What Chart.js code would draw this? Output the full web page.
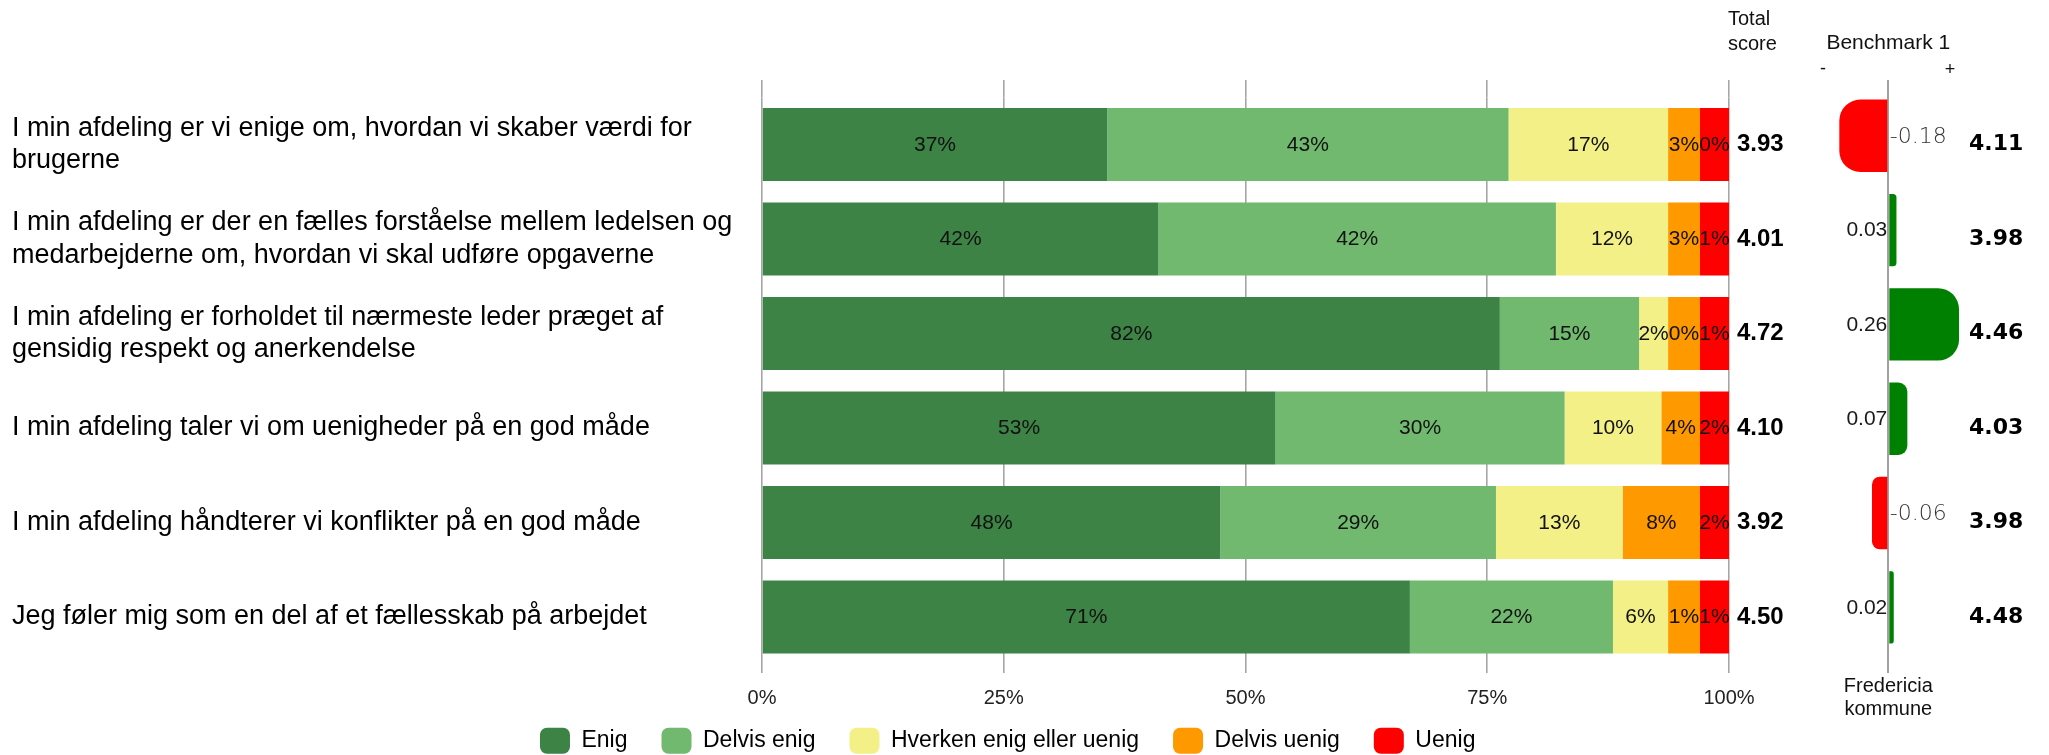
<!DOCTYPE html>
<html>
<head>
<meta charset="utf-8">
<script src="https://cdn.jsdelivr.net/npm/chart.js@4.4.1/dist/chart.umd.min.js"></script>
<style>
html,body{margin:0;padding:0;background:#fff;width:2049px;height:755px;overflow:hidden;}
#wrap{position:relative;width:2049px;height:755px;overflow:hidden;}
canvas{position:absolute;top:0;}
#main{left:0;}
#bench{left:1790px;}
</style>
</head>
<body>
<div id="wrap">
<canvas id="main" width="2049" height="780"></canvas>
<canvas id="bench" width="259" height="755"></canvas>
</div>
<script>
// ---------- data ----------
const categories = [
  ['I min afdeling er vi enige om, hvordan vi skaber værdi for', 'brugerne'],
  ['I min afdeling er der en fælles forståelse mellem ledelsen og', 'medarbejderne om, hvordan vi skal udføre opgaverne'],
  ['I min afdeling er forholdet til nærmeste leder præget af', 'gensidig respekt og anerkendelse'],
  'I min afdeling taler vi om uenigheder på en god måde',
  'I min afdeling håndterer vi konflikter på en god måde',
  'Jeg føler mig som en del af et fællesskab på arbejdet'
];
const seriesNames = ['Enig', 'Delvis enig', 'Hverken enig eller uenig', 'Delvis uenig', 'Uenig'];

// percentages printed on the segments
const pctEnig        = [37, 42, 82, 53, 48, 71];
const pctDelvisEnig  = [43, 42, 15, 30, 29, 22];
const pctHverken     = [17, 12, 2, 10, 13, 6];
const pctDelvisUenig = [3, 3, 0, 4, 8, 1];
const pctUenig       = [0, 1, 1, 2, 2, 1];

// segment widths as drawn in the picture (small shares get a minimum visible width)
const barEnig        = [35.7, 41.0, 76.3, 53.1, 47.4, 67.0];
const barDelvisEnig  = [41.5, 41.1, 14.4, 29.9, 28.5, 21.0];
const barHverken     = [16.5, 11.6, 3.0, 10.0, 13.1, 5.7];
const barDelvisUenig = [3.3, 3.3, 3.3, 4.0, 8.0, 3.3];
const barUenig       = [3.0, 3.0, 3.0, 3.0, 3.0, 3.0];

const totalScore = ['3.93', '4.01', '4.72', '4.10', '3.92', '4.50'];
const benchDiff  = [-0.18, 0.03, 0.26, 0.07, -0.06, 0.02];
const benchScore = ['4.11', '3.98', '4.46', '4.03', '3.98', '4.48'];
const xTickStep  = 25;

// ---------- styling ----------
const SANS = '"Liberation Sans", Arial, sans-serif';
const DEJA = '"DejaVu Sans", sans-serif';
Chart.defaults.font.family = SANS;
Chart.defaults.color = '#000';

const pctLabels = [pctEnig, pctDelvisEnig, pctHverken, pctDelvisUenig, pctUenig];
const barValues = [barEnig, barDelvisEnig, barHverken, barDelvisUenig, barUenig];
const colors = ['#3d8345', '#70b96e', '#f3f087', '#ff9900', '#ff0000'];
const GRID = '#a6a6a6';

const segLabelPlugin = {
  id: 'segLabels',
  afterDatasetsDraw(chart) {
    const ctx = chart.ctx;
    ctx.save();
    ctx.font = '21px ' + SANS;
    ctx.fillStyle = '#111';
    ctx.textAlign = 'center';
    ctx.textBaseline = 'middle';
    chart.data.datasets.forEach((ds, i) => {
      chart.getDatasetMeta(i).data.forEach((el, j) => {
        ctx.fillText(pctLabels[i][j] + '%', (el.x + el.base) / 2, el.y + 0.5);
      });
    });
    ctx.restore();
  }
};

const headerPlugin = {
  id: 'hdr',
  afterDraw(chart) {
    const ctx = chart.ctx;
    const x = chart.chartArea.right - 1;
    ctx.save();
    ctx.font = '20px ' + SANS;
    ctx.fillStyle = '#111';
    ctx.textAlign = 'left';
    ctx.textBaseline = 'alphabetic';
    ctx.fillText('Total', x, 25);
    ctx.fillText('score', x, 50);
    ctx.restore();
  }
};

// place the legend row where the reference has it (just under the % tick labels)
const legendPlace = {
  id: 'legendPlace',
  afterLayout(chart) {
    const l = chart.legend;
    if (!l) return;
    l.top -= 16.3; l.bottom -= 16.3;
    l.left -= 22.8; l.right -= 22.8;
  }
};

new Chart(document.getElementById('main'), {
  type: 'bar',
  data: {
    labels: categories,
    datasets: seriesNames.map((n, i) => ({
      label: n,
      data: barValues[i],
      backgroundColor: colors[i],
      borderWidth: 0,
      barPercentage: 0.7726,
      categoryPercentage: 1,
      stack: 's'
    }))
  },
  options: {
    responsive: false,
    animation: false,
    indexAxis: 'y',
    layout: { padding: { left: 12, right: 0, top: 80, bottom: 0 } },
    plugins: {
      legend: {
        position: 'bottom',
        labels: {
          boxWidth: 30, boxHeight: 26, padding: 34,
          font: { size: 23 }, color: '#000',
          useBorderRadius: true, borderRadius: 7
        }
      },
      tooltip: { enabled: false },
      title: { display: false }
    },
    scales: {
      x: {
        type: 'linear', position: 'bottom', stacked: true, min: 0, max: 100,
        ticks: { stepSize: xTickStep, callback: v => v + '%', font: { size: 20, lineHeight: 1.2 }, color: '#222', padding: 13, maxRotation: 0 },
        grid: { color: GRID, lineWidth: 1.6, tickLength: 8.8, drawTicks: true },
        border: { display: false },
        afterFit: s => { s.height = 45.8; }
      },
      xTop: {
        type: 'linear', axis: 'x', position: 'top', min: 0, max: 100,
        ticks: { stepSize: xTickStep, display: false },
        grid: { color: GRID, lineWidth: 1.6, tickLength: 17.25, drawOnChartArea: false },
        border: { display: false },
        afterFit: s => { s.height = 17.25; }
      },
      y: {
        type: 'category', stacked: true, offset: true,
        grid: { display: false, drawTicks: false }, border: { display: false },
        ticks: { autoSkip: false, crossAlign: 'far', padding: 0, color: '#000', font: { size: 27, lineHeight: 1.2 } },
        afterFit: s => { s.width = 750; }
      },
      yR: {
        type: 'category', axis: 'y', position: 'right', labels: totalScore, offset: true,
        grid: { display: false, drawTicks: false }, border: { display: false },
        ticks: { autoSkip: false, crossAlign: 'near', padding: 8, color: '#000', font: { size: 24, weight: 'bold' } },
        afterFit: s => { s.width = 240; }
      },
      yR2: {
        type: 'category', axis: 'y', position: 'right', weight: 1, labels: benchScore, offset: true,
        grid: { display: false, drawTicks: false }, border: { display: false },
        ticks: { autoSkip: false, crossAlign: 'near', padding: 0, color: '#000', font: { family: DEJA, size: 22, weight: 'bold' } },
        afterFit: s => { s.width = 80; }
      }
    }
  },
  plugins: [segLabelPlugin, headerPlugin, legendPlace]
});

// ---------- benchmark panel ----------
const benchLabelPlugin = {
  id: 'benchLabels',
  afterDatasetsDraw(chart) {
    const ctx = chart.ctx;
    const zero = chart.scales.x.getPixelForValue(0);
    const meta = chart.getDatasetMeta(0);
    ctx.save();
    ctx.textBaseline = 'middle';
    meta.data.forEach((el, j) => {
      const v = benchDiff[j];
      const t = v.toFixed(2);
      if (v < 0) {
        ctx.font = '200 22px ' + DEJA;
        ctx.fillStyle = '#333';
        ctx.textAlign = 'left';
        ctx.fillText(t, zero + 1.5, el.y + 1.5);
      } else {
        ctx.font = '21px ' + SANS;
        ctx.fillStyle = '#1a1a1a';
        ctx.textAlign = 'right';
        ctx.fillText(t, zero - 1, el.y + 0.5);
      }
    });
    ctx.fillStyle = '#111';
    ctx.textAlign = 'center';
    ctx.textBaseline = 'alphabetic';
    ctx.font = '21px ' + SANS;
    ctx.fillText('Benchmark 1', zero, 49.3);
    ctx.font = '18px ' + SANS;
    ctx.textBaseline = 'middle';
    ctx.fillText('-', chart.chartArea.left + 13.6, 69);
    ctx.fillText('+', chart.chartArea.right - 17.2, 70);
    ctx.restore();
  }
};

new Chart(document.getElementById('bench'), {
  type: 'bar',
  data: {
    labels: categories,
    datasets: [{
      data: benchDiff,
      backgroundColor: benchDiff.map(v => v < 0 ? '#ff0000' : '#008000'),
      borderWidth: 0,
      borderRadius: 21,
      borderSkipped: 'start',
      barPercentage: 0.767,
      categoryPercentage: 1
    }]
  },
  options: {
    responsive: false,
    animation: false,
    indexAxis: 'y',
    layout: { padding: { left: 19.4, right: 81.8, top: 80, bottom: 33.6 } },
    plugins: { legend: { display: false }, tooltip: { enabled: false } },
    scales: {
      x: {
        type: 'linear', position: 'bottom', min: -0.29, max: 0.29,
        afterBuildTicks: s => { s.ticks = [{ value: 0 }]; },
        ticks: { display: false },
        grid: { color: '#a0a0a0', lineWidth: 2, tickLength: 18.5 },
        border: { display: false },
        title: { display: true, text: ['Fredericia', 'kommune'], font: { size: 20, lineHeight: 1.17 }, color: '#111', padding: { top: 1.6, bottom: 0 } },
        afterFit: s => { s.height = 66.9; }
      },
      xt: {
        type: 'linear', axis: 'x', position: 'top', min: -0.29, max: 0.29,
        afterBuildTicks: s => { s.ticks = [{ value: 0 }]; },
        ticks: { display: false },
        grid: { color: '#a0a0a0', lineWidth: 2, tickLength: 8.6, drawOnChartArea: false },
        border: { display: false },
        afterFit: s => { s.height = 8.6; }
      },
      y: { type: 'category', display: false, offset: true }
    }
  },
  plugins: [benchLabelPlugin]
});
</script>
</body>
</html>
